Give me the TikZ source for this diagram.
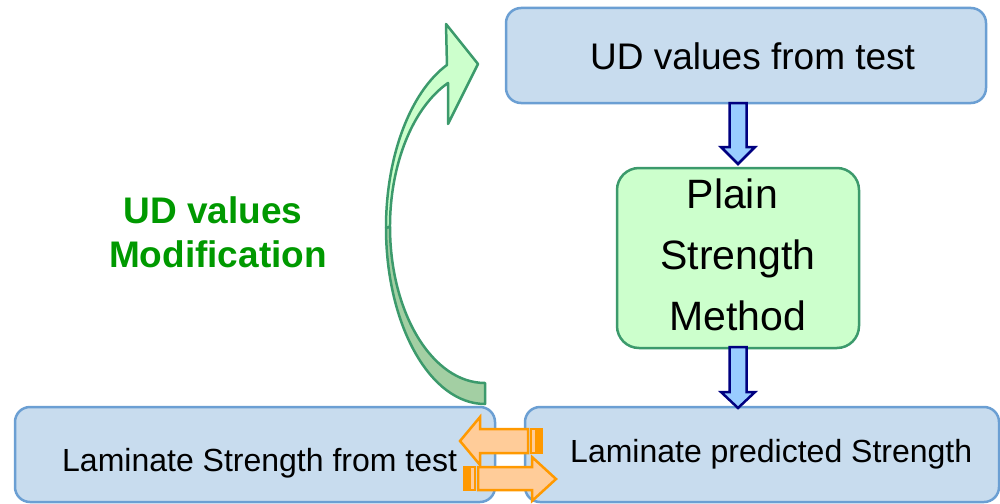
\documentclass[tikz,border=0pt]{standalone}
\usepackage{fontspec}
\setmainfont{Liberation Sans}
\definecolor{boxfill}{HTML}{C8DCEE}
\definecolor{boxline}{HTML}{6B9FD3}
\definecolor{grfill}{HTML}{CCFFCC}
\definecolor{grdark}{HTML}{A3CFA3}
\definecolor{grline}{HTML}{3C9A6C}
\definecolor{navyline}{HTML}{000080}
\definecolor{arrfill}{HTML}{99CCFF}
\definecolor{orline}{HTML}{FF9900}
\definecolor{orfill}{HTML}{FFCC99}
\definecolor{udgreen}{HTML}{009900}
\begin{document}
\begin{tikzpicture}[x=1pt,y=-1pt,
  bluebox/.style={draw=boxline, fill=boxfill, line width=2.5pt, rounded corners=15pt, inner sep=0pt},
  greenbox/.style={draw=grline, fill=grfill, line width=2.5pt, rounded corners=22pt, inner sep=0pt},
  txt/.style={inner sep=0pt, text=black},
  downarr/.style={draw=navyline, fill=arrfill, line width=2.5pt, line join=miter},
  orarr/.style={draw=orline, fill=orfill, line width=2.5pt, line join=miter},
  curvlight/.style={draw=grline, fill=grfill, line width=2.5pt, line join=round},
  curvdark/.style={draw=grline, fill=grdark, line width=2.5pt, line join=round}]
\useasboundingbox (0,0) rectangle (1000,503);

% boxes
\node[bluebox, minimum width=480pt, minimum height=95pt] (top) at (746,55.5) {};
\node[greenbox, minimum width=242pt, minimum height=180pt] (green) at (738,258) {};
\node[bluebox, minimum width=480pt, minimum height=95pt] (bl) at (255,454.5) {};
\node[bluebox, minimum width=474pt, minimum height=95pt] (br) at (762,454.5) {};

% texts
\node[txt, anchor=base west, font=\fontsize{37}{44}\selectfont] (toptxt) at (590,70) {UD values from test};
\node[txt, align=center, font=\fontsize{41}{61}\selectfont] (plaintxt) at (738,255) {Plain\hspace*{0.28em}\\Strength\\Method};
\node[txt, anchor=base west, font=\fontsize{32}{38}\selectfont] (bltxt) at (62,471) {Laminate Strength from test};
\node[txt, anchor=base west, font=\fontsize{32}{38}\selectfont] (brtxt) at (570,462) {Laminate predicted Strength};
\node[txt, align=center, text=udgreen, font=\bfseries\fontsize{37}{44}\selectfont] (udmod) at (218,232) {UD values\hspace*{0.28em}\\Modification};

% down block arrows
\draw[downarr] (729.5,103) -- (729.5,147) -- (721,147) -- (738,164) -- (755,147) -- (746.5,147) -- (746.5,103) -- cycle;
\draw[downarr] (729.5,347) -- (729.5,392) -- (721,392) -- (738,408) -- (755,392) -- (746.5,392) -- (746.5,347) -- cycle;

% curved arrow (back part, then front part with head)
\draw[curvdark] (485,404) arc[start angle=90, end angle=180, x radius=99, y radius=176.3]
  -- (390,226.8) arc[start angle=180, end angle=90, x radius=95, y radius=156.2] -- cycle;
\draw[curvlight] (386,227.7) arc[start angle=180, end angle=247.4, x radius=99, y radius=176.3]
  -- (446,24) -- (478,64) -- (448,124) -- (448,83)
  arc[start angle=247.1, end angle=180, x radius=95, y radius=156.2] -- cycle;

% orange striped arrows
\draw[orarr] (528,429) -- (480,429) -- (480,417) -- (460,441) -- (480,465) -- (480,453) -- (528,453) -- cycle;
\draw[orarr] (531,429) rectangle (536,453);
\draw[orarr] (538.5,429) rectangle (541.5,453);
\draw[orarr] (478,467) -- (532,467) -- (532,457) -- (556,479) -- (532,501) -- (532,490) -- (478,490) -- cycle;
\draw[orarr] (470,467) rectangle (475,490);
\draw[orarr] (464.5,467) rectangle (467.5,490);
\end{tikzpicture}
\end{document}
